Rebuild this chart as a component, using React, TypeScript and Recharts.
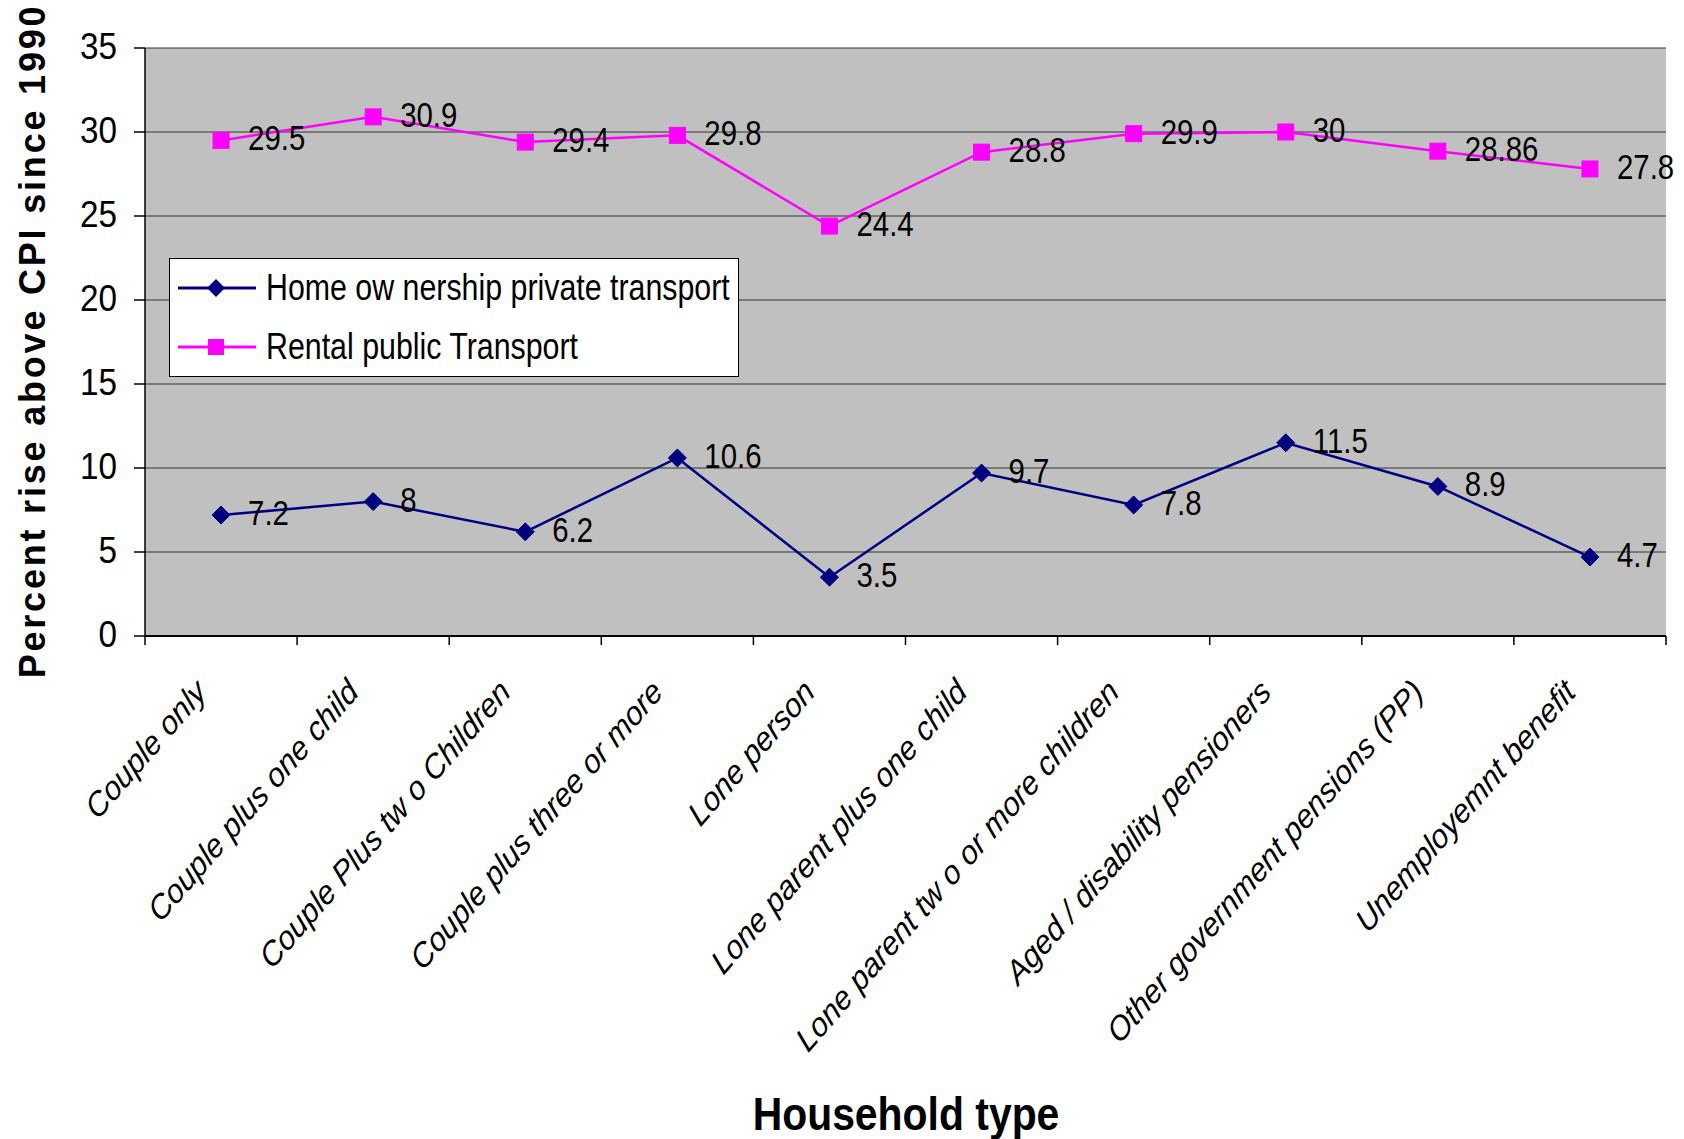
import React from 'react';
import { LineChart, Line, XAxis, YAxis, CartesianGrid, Legend, LabelList } from 'recharts';

const categories = [
  'Couple only',
  'Couple plus one child',
  'Couple Plus tw o Children',
  'Couple plus three or more',
  'Lone person',
  'Lone parent plus one child',
  'Lone parent tw o or more children',
  'Aged / disability pensioners',
  'Other government pensions (PP)',
  'Unemployemnt benefit',
];
const homeOwnership = [7.2, 8, 6.2, 10.6, 3.5, 9.7, 7.8, 11.5, 8.9, 4.7];
const rentalPublic = [29.5, 30.9, 29.4, 29.8, 24.4, 28.8, 29.9, 30, 28.86, 27.8];
const yTicks = [0, 5, 10, 15, 20, 25, 30, 35];
const seriesNames = ['Home ow nership private transport', 'Rental public Transport'];
const seriesColors = ['#000080', '#FF00FF'];

const data = categories.map((name, i) => ({ name, home: homeOwnership[i], rental: rentalPublic[i] }));

const W = 1684;
const H = 1139;
const PLOT_LEFT = 145;
const PLOT_RIGHT = 1666;
const PLOT_TOP = 48;
const PLOT_BOTTOM = 636;
const BAND = (PLOT_RIGHT - PLOT_LEFT) / categories.length;
const SANS = "'Liberation Sans', Arial, sans-serif";

const XTick = (props: any) => {
  const { x, payload } = props;
  const index = props.index ?? payload?.index ?? 0;
  const left = x - BAND / 2;
  const tx = x - 13;
  const ty = 694;
  return (
    <g>
      <line x1={left} y1={PLOT_BOTTOM} x2={left} y2={PLOT_BOTTOM + 9} stroke="#000" strokeWidth={1.5} />
      {index === categories.length - 1 && (
        <line x1={x + BAND / 2} y1={PLOT_BOTTOM} x2={x + BAND / 2} y2={PLOT_BOTTOM + 9} stroke="#000" strokeWidth={1.5} />
      )}
      <text
        x={0}
        y={0}
        textAnchor="end"
        transform={`translate(${tx}, ${ty}) scale(0.87, 1) rotate(-45)`}
        fontSize={34}
        fontStyle="italic"
        fontFamily={SANS}
        fill="#000"
      >
        {payload.value}
      </text>
    </g>
  );
};

const YTick = (props: any) => {
  const { x, y, payload } = props;
  return (
    <text
      transform={`translate(${x}, ${y}) scale(0.9, 1)`}
      x={0}
      y={0}
      dy="0.3em"
      textAnchor="end"
      fontSize={37}
      fontFamily={SANS}
      fill="#000"
    >
      {payload.value}
    </text>
  );
};

const Diamond = (props: any) => {
  const { cx, cy } = props;
  if (cx == null || cy == null) return null;
  const r = 9;
  return (
    <path
      key={`d-${props.index}`}
      d={`M${cx},${cy - r} L${cx + r},${cy} L${cx},${cy + r} L${cx - r},${cy} Z`}
      fill="#000080"
      stroke="#000080"
    />
  );
};

const Square = (props: any) => {
  const { cx, cy } = props;
  if (cx == null || cy == null) return null;
  return <rect key={`s-${props.index}`} x={cx - 8} y={cy - 8} width={16} height={16} fill="#FF00FF" stroke="#FF00FF" />;
};

const renderLabel = (props: any) => {
  const { x, y, value } = props;
  return (
    <text
      transform={`translate(${x + 27}, ${y - 2}) scale(0.84, 1)`}
      x={0}
      y={0}
      dominantBaseline="central"
      fontSize={35}
      fontFamily={SANS}
      fill="#000"
    >
      {value}
    </text>
  );
};

const LegendBox = () => (
  <div
    style={{
      width: 570,
      height: 119,
      background: '#fff',
      border: '1px solid #000',
      boxSizing: 'border-box',
      position: 'relative',
    }}
  >
    {seriesNames.map((name, i) => (
      <div
        key={name}
        style={{ position: 'absolute', left: 8, top: 29 + i * 59 - 25, height: 50, display: 'flex', alignItems: 'center' }}
      >
        <svg width={78} height={50} style={{ display: 'block' }}>
          <line x1={0} y1={25} x2={78} y2={25} stroke={seriesColors[i]} strokeWidth={3} />
          {i === 0 ? (
            <path d="M38,16 L47,25 L38,34 L29,25 Z" fill={seriesColors[i]} />
          ) : (
            <rect x={30} y={17} width={16} height={16} fill={seriesColors[i]} />
          )}
        </svg>
        <span
          style={{
            display: 'inline-block',
            marginLeft: 10,
            fontSize: 37,
            fontFamily: SANS,
            color: '#000',
            whiteSpace: 'nowrap',
            lineHeight: '50px',
            transform: 'scaleX(0.82)',
            transformOrigin: 'left center',
          }}
        >
          {name}
        </span>
      </div>
    ))}
  </div>
);

export default function App() {
  return (
    <div style={{ position: 'absolute', left: 0, top: 0, width: W, height: H, background: '#fff' }}>
      <LineChart
        width={W}
        height={H}
        data={data}
        margin={{ top: PLOT_TOP, right: W - PLOT_RIGHT, bottom: 0, left: 0 }}
      >
        <CartesianGrid vertical={false} fill="#C0C0C0" stroke="#333" strokeWidth={1} />
        <XAxis
          dataKey="name"
          height={H - PLOT_BOTTOM}
          interval={0}
          padding={{ left: BAND / 2, right: BAND / 2 }}
          tick={<XTick />}
          tickLine={false}
          axisLine={{ stroke: '#000', strokeWidth: 2 }}
        />
        <XAxis
          xAxisId="top"
          dataKey="name"
          orientation="top"
          height={0}
          padding={{ left: BAND / 2, right: BAND / 2 }}
          tick={false}
          tickLine={false}
          axisLine={{ stroke: '#808080', strokeWidth: 3 }}
        />
        <YAxis
          width={PLOT_LEFT}
          domain={[0, 35]}
          ticks={yTicks}
          interval={0}
          tickSize={11}
          tickMargin={17}
          axisLine={{ stroke: '#000', strokeWidth: 1.5 }}
          tickLine={{ stroke: '#000', strokeWidth: 1.5 }}
          tick={<YTick />}
          label={{
            content: () => (
              <text
                x={32}
                y={341}
                textAnchor="middle"
                dominantBaseline="central"
                transform="rotate(-90, 32, 341)"
                fontSize={36}
                fontWeight="bold"
                letterSpacing={2.8}
                fontFamily={SANS}
                fill="#000"
              >
                Percent rise above CPI since 1990
              </text>
            ),
          }}
        />
        <YAxis
          yAxisId="right"
          orientation="right"
          width={0}
          domain={[0, 35]}
          tick={false}
          tickLine={false}
          axisLine={{ stroke: '#808080', strokeWidth: 3 }}
        />
        <Legend
          layout="vertical"
          align="center"
          verticalAlign="middle"
          content={() => <LegendBox />}
          wrapperStyle={{ position: 'absolute', left: 169, top: 258, width: 570, height: 119 }}
        />
        <Line
          type="linear"
          dataKey="home"
          name={seriesNames[0]}
          stroke="#000080"
          strokeWidth={2.5}
          dot={<Diamond />}
          activeDot={false}
          isAnimationActive={false}
        >
          <LabelList dataKey="home" content={renderLabel} />
        </Line>
        <Line
          type="linear"
          dataKey="rental"
          name={seriesNames[1]}
          stroke="#FF00FF"
          strokeWidth={2.5}
          dot={<Square />}
          activeDot={false}
          isAnimationActive={false}
        >
          <LabelList dataKey="rental" content={renderLabel} />
        </Line>
      </LineChart>
      <div
        style={{
          position: 'absolute',
          left: 0,
          top: 1087,
          width: 1812,
          textAlign: 'center',
          fontFamily: SANS,
          fontWeight: 'bold',
          fontSize: 47,
          lineHeight: '54px',
          color: '#000',
          transform: 'scaleX(0.87)',
          transformOrigin: '906px 50%',
        }}
      >
        Household type
      </div>
    </div>
  );
}
